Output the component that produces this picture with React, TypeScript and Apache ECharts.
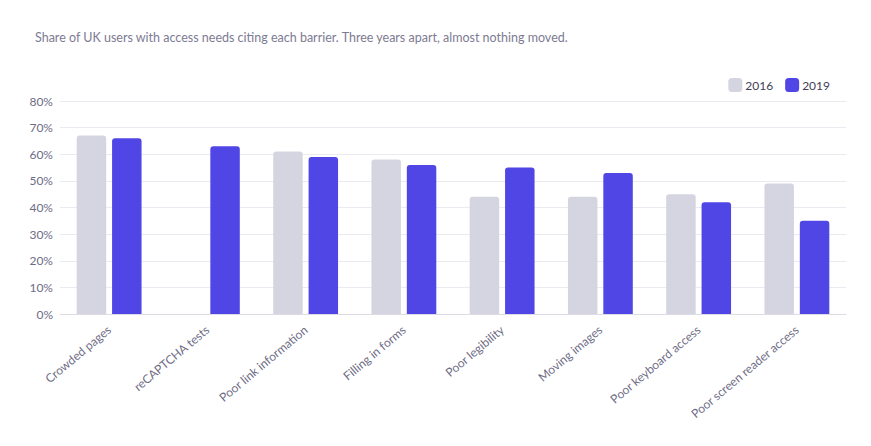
import React, { useEffect, useRef } from "react";
import * as echarts from "echarts";

const categories = [
  "Crowded pages",
  "reCAPTCHA tests",
  "Poor link information",
  "Filling in forms",
  "Poor legibility",
  "Moving images",
  "Poor keyboard access",
  "Poor screen reader access",
];
const values2016: (number | null)[] = [67, null, 61, 58, 44, 44, 45, 49];
const values2019: (number | null)[] = [66, 63, 59, 56, 55, 53, 42, 35];
const yTicks = [0, 10, 20, 30, 40, 50, 60, 70, 80];

const FONT = "Lato, 'Noto Sans', sans-serif";
const TEXT = "#6e6c85";

export default function App() {
  const ref = useRef<HTMLDivElement>(null);
  useEffect(() => {
    if (!ref.current) return;
    const chart = echarts.init(ref.current, undefined, { renderer: "svg" });
    chart.setOption({
      animation: false,
      textStyle: { fontFamily: FONT },
      title: {
        text: "Share of UK users with access needs citing each barrier. Three years apart, almost nothing moved.",
        left: 22,
        top: 18,
        textStyle: { fontSize: 12.5, fontWeight: "normal", color: "#7d7b93", fontFamily: FONT },
      },
      legend: {
        right: 28,
        top: 65,
        itemWidth: 14,
        itemHeight: 14,
        itemGap: 12,
        icon: "roundRect",
        textStyle: { fontSize: 12, color: "#3f3d56", fontFamily: FONT, padding: [0, 0, 0, -2] },
        data: ["2016", "2019"],
      },
      grid: { left: 52, right: 17, top: 93, bottom: 124 },
      xAxis: {
        type: "category",
        data: categories,
        axisLine: { lineStyle: { color: "#dcdbe6" } },
        axisTick: { show: false },
        axisLabel: { rotate: 40, color: TEXT, fontSize: 12, fontFamily: FONT, interval: 0, margin: 14 },
      },
      yAxis: {
        type: "value",
        min: yTicks[0],
        max: yTicks[yTicks.length - 1],
        interval: 10,
        axisLabel: { formatter: "{value}%", color: TEXT, fontSize: 12, fontFamily: FONT, margin: 7 },
        splitLine: { lineStyle: { color: "#ebeaf1" } },
      },
      series: [
        {
          name: "2016",
          type: "bar",
          data: values2016,
          barWidth: "30%",
          barGap: "20%",
          itemStyle: { color: "#d5d5e2", borderRadius: [3, 3, 0, 0] },
        },
        {
          name: "2019",
          type: "bar",
          data: values2019,
          barWidth: "30%",
          itemStyle: { color: "#4f46e5", borderRadius: [3, 3, 0, 0] },
        },
      ],
    });
    return () => chart.dispose();
  }, []);
  return <div ref={ref} style={{ width: 855, height: 430 }} />;
}
